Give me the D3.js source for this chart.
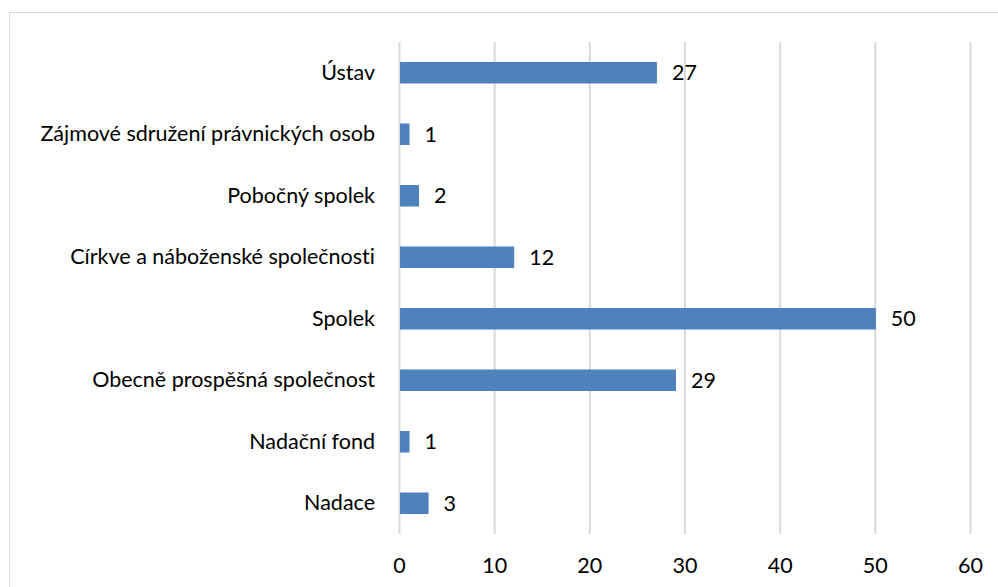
<html>
<head>
<meta charset="utf-8">
<script src="https://d3js.org/d3.v7.min.js"></script>
<style>
  body { margin: 0; background: #fff; }
  svg text { font-family: Lato, "Liberation Sans", sans-serif; fill: #000; font-variant-ligatures: none; }
</style>
</head>
<body>
<svg id="chart"></svg>
<script>
// categories, top to bottom as drawn
const categories = [
  "Ústav",
  "Zájmové sdružení právnických osob",
  "Pobočný spolek",
  "Církve a náboženské společnosti",
  "Spolek",
  "Obecně prospěšná společnost",
  "Nadační fond",
  "Nadace"
];
const counts = [27, 1, 2, 12, 50, 29, 1, 3];
const xTicks = [0, 10, 20, 30, 40, 50, 60];

const W = 998, H = 587;
const margin = {top: 42, right: 28, bottom: 53, left: 399};
const fontSize = 21.5;

const svg = d3.select("#chart")
  .attr("width", W)
  .attr("height", H);

// chart area border (runs off the right and bottom edge)
svg.append("rect")
  .attr("x", 9.5).attr("y", 12.5)
  .attr("width", 1100).attr("height", 700)
  .attr("fill", "none")
  .attr("stroke", "#d9d9d9");

const x = d3.scaleLinear()
  .domain([0, 60])
  .range([margin.left, W - margin.right]);

const y = d3.scaleBand()
  .domain(categories)
  .range([margin.top, H - margin.bottom])
  .paddingInner(0.65)
  .paddingOuter(0.325);

const data = categories.map((c, i) => ({cat: c, val: counts[i]}));

// gridlines
svg.append("g")
  .selectAll("line")
  .data(xTicks)
  .join("line")
    .attr("x1", d => x(d) + 0.5)
    .attr("x2", d => x(d) + 0.5)
    .attr("y1", margin.top)
    .attr("y2", H - margin.bottom)
    .attr("stroke", "#d9d9d9")
    .attr("stroke-width", 2);

// bars
svg.append("g")
  .selectAll("rect")
  .data(data)
  .join("rect")
    .attr("x", x(0) + 1)
    .attr("y", d => y(d.cat))
    .attr("width", d => x(d.val) - x(0))
    .attr("height", y.bandwidth())
    .attr("fill", "#4f81bd");

// value labels
svg.append("g")
  .selectAll("text")
  .data(data)
  .join("text")
    .attr("x", d => x(d.val) + 16)
    .attr("y", d => y(d.cat) + y.bandwidth() / 2)
    .attr("dy", "0.36em")
    .attr("font-size", fontSize)
    .text(d => d.val);

// category labels
const yAxis = d3.axisLeft(y).tickSize(0).tickPadding(0);
svg.append("g")
  .attr("transform", `translate(${margin.left - 24},0)`)
  .call(yAxis)
  .call(g => g.select(".domain").remove())
  .call(g => g.selectAll("text")
    .attr("font-size", fontSize)
    .style("font-family", "Lato, 'Liberation Sans', sans-serif"));

// x axis tick labels
const xAxis = d3.axisBottom(x).tickValues(xTicks).tickSize(0).tickPadding(0);
svg.append("g")
  .attr("transform", `translate(0,${H - margin.bottom + 24})`)
  .call(xAxis)
  .call(g => g.select(".domain").remove())
  .call(g => g.selectAll("text")
    .attr("font-size", fontSize)
    .style("font-family", "Lato, 'Liberation Sans', sans-serif"));
</script>
</body>
</html>
